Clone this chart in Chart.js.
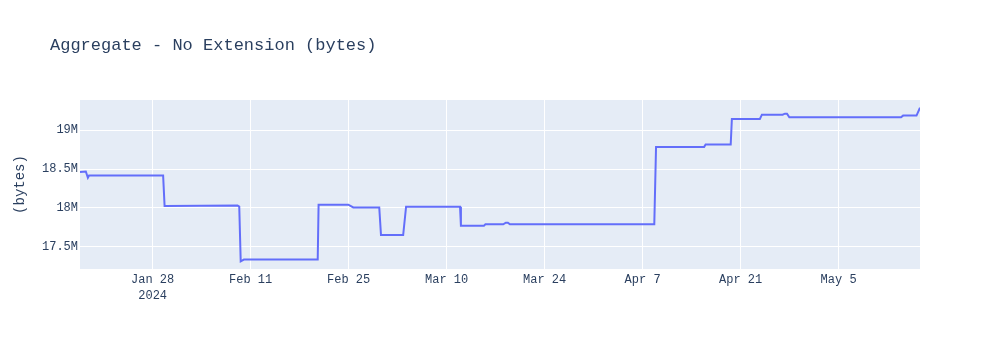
<!DOCTYPE html>
<html>
<head>
<meta charset="utf-8">
<script src="https://cdn.jsdelivr.net/npm/chart.js@4.4.1/dist/chart.umd.min.js"></script>
<style>
  html, body { margin: 0; padding: 0; background: #fff; }
  #wrap { width: 1000px; height: 350px; }
</style>
</head>
<body>
<div id="wrap"><canvas id="myChart" width="1000" height="350"></canvas></div>
<script>
// Datos (fecha/hora UTC, tamaño en bytes)
const fechas = [
    "2024-01-17T15:00Z", "2024-01-18T11:00Z", "2024-01-18T18:00Z", "2024-01-18T22:00Z",
    "2024-01-29T12:00Z", "2024-01-29T17:00Z", "2024-02-09T03:00Z", "2024-02-09T09:00Z",
    "2024-02-09T14:00Z", "2024-02-10T01:00Z", "2024-02-20T14:00Z", "2024-02-20T17:00Z",
    "2024-02-24T23:00Z", "2024-02-25T16:00Z", "2024-02-29T09:00Z", "2024-02-29T15:00Z",
    "2024-03-03T19:00Z", "2024-03-04T05:00Z", "2024-03-11T22:00Z", "2024-03-12T01:00Z",
    "2024-03-15T08:00Z", "2024-03-15T13:00Z", "2024-03-18T02:00Z", "2024-03-18T11:00Z",
    "2024-03-18T18:00Z", "2024-03-19T01:00Z", "2024-04-08T16:00Z", "2024-04-08T22:00Z",
    "2024-04-15T19:00Z", "2024-04-16T00:00Z", "2024-04-19T14:00Z", "2024-04-19T18:00Z",
    "2024-04-23T18:00Z", "2024-04-24T01:00Z", "2024-04-27T00:00Z", "2024-04-27T08:00Z",
    "2024-04-27T15:00Z", "2024-04-27T23:00Z", "2024-05-13T22:00Z", "2024-05-14T05:00Z",
    "2024-05-16T03:00Z", "2024-05-16T15:00Z"
];
const bytes = [
    18460000, 18468000, 18387000, 18416000,
    18416000, 18023000, 18030000, 18015000,
    17311000, 17333000, 17333000, 18040000,
    18040000, 18005000, 18005000, 17650000,
    17650000, 18014000, 18014000, 17770000,
    17770000, 17787000, 17787000, 17808000,
    17808000, 17787000, 17787000, 18785000,
    18785000, 18815000, 18815000, 19145000,
    19145000, 19200000, 19200000, 19213000,
    19213000, 19167000, 19167000, 19188000,
    19188000, 19290000
];

// Marcas de los ejes
const ticksX = ["2024-01-28T00:00Z", "2024-02-11T00:00Z", "2024-02-25T00:00Z", "2024-03-10T00:00Z",
                "2024-03-24T00:00Z", "2024-04-07T00:00Z", "2024-04-21T00:00Z", "2024-05-05T00:00Z"];
const etiquetasX = [["Jan 28", "2024"], "Feb 11", "Feb 25", "Mar 10", "Mar 24", "Apr 7", "Apr 21", "May 5"];
const ticksY = [17500000, 18000000, 18500000, 19000000];
const etiquetasY = ["17.5M", "18M", "18.5M", "19M"];

const titulo = "Aggregate - No Extension (bytes)";
const tituloY = "(bytes)";

// Días desde el 28 de enero (eje lineal, sin adaptador de fechas)
const base = Date.parse("2024-01-28T00:00Z");
const aDias = (s) => (Date.parse(s) - base) / 864e5;

const puntos = fechas.map((f, i) => ({ x: aDias(f), y: bytes[i] }));
const diasTicks = ticksX.map(aDias);

const fuente = "'Liberation Mono', 'Courier New', monospace";
const colorTexto = "#2a3f5f";

// Fondo del área de trazado y título
const fondoPlugin = {
    id: "fondo",
    beforeDraw(chart) {
        const { ctx, chartArea } = chart;
        ctx.save();
        ctx.fillStyle = "#E5ECF6";
        ctx.fillRect(chartArea.left, chartArea.top, chartArea.right - chartArea.left, chartArea.bottom - chartArea.top);
        ctx.restore();
    },
    afterDraw(chart) {
        const ctx = chart.ctx;
        ctx.save();
        ctx.font = "17px " + fuente;
        ctx.fillStyle = colorTexto;
        ctx.textBaseline = "middle";
        ctx.textAlign = "left";
        ctx.fillText(titulo, 50, 45);
        ctx.restore();
    },
};

const ctx = document.getElementById("myChart").getContext("2d");
const myChart = new Chart(ctx, {
    type: "line",
    data: {
        datasets: [
            {
                data: puntos,
                borderColor: "#636EFA",
                borderWidth: 2,
                pointRadius: 0,
                tension: 0,
                fill: false,
            },
        ],
    },
    options: {
        responsive: false,
        animation: false,
        layout: { padding: { top: 100, right: 80, left: 0, bottom: 0 } },
        plugins: {
            legend: { display: false },
            title: { display: false },
            tooltip: { enabled: false },
        },
        scales: {
            x: {
                type: "linear",
                min: puntos[0].x,
                max: puntos[puntos.length - 1].x,
                afterBuildTicks(scale) {
                    scale.ticks = diasTicks.map((v) => ({ value: v }));
                },
                afterFit(scale) {
                    scale.height = 81;
                },
                grid: { color: "#ffffff", lineWidth: 1, drawTicks: false },
                border: { display: false },
                ticks: {
                    autoSkip: false,
                    maxRotation: 0,
                    padding: 3,
                    color: colorTexto,
                    font: { family: fuente, size: 12, lineHeight: 1.3 },
                    callback: (v, i) => etiquetasX[i],
                },
            },
            y: {
                min: 17212000,
                max: 19389000,
                afterBuildTicks(scale) {
                    scale.ticks = ticksY.map((v) => ({ value: v }));
                },
                afterFit(scale) {
                    scale.width = 80;
                },
                grid: { color: "#ffffff", lineWidth: 1, drawTicks: false },
                border: { display: false },
                ticks: {
                    padding: 2,
                    color: colorTexto,
                    font: { family: fuente, size: 12 },
                    callback: (v, i) => etiquetasY[i],
                },
                title: {
                    display: true,
                    text: tituloY,
                    color: colorTexto,
                    font: { family: fuente, size: 14 },
                    padding: { top: 12, bottom: 0 },
                },
            },
        },
    },
    plugins: [fondoPlugin],
});
</script>
</body>
</html>
